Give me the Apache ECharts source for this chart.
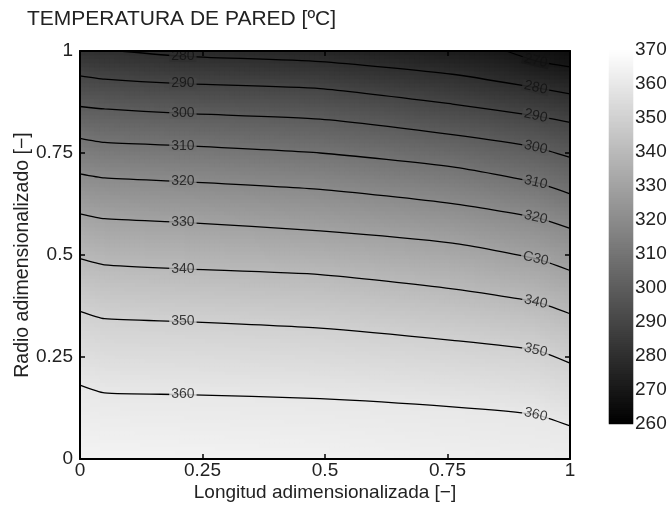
<!DOCTYPE html>
<html lang="es">
<head>
    <meta charset="UTF-8">
    <script src="https://cdn.jsdelivr.net/npm/echarts@6/dist/echarts.min.js"></script>
    <title>Temperatura de pared</title>
</head>
<body style="margin: 0; background: #fff">
<div id="main" style="width: 670px; height: 506px"></div>
<script>
    // isolineas: [longitud, radio]
    var levels = [270, 280, 290, 300, 310, 320, 330, 340, 350, 360];
    var c270 = [[0.87, 1.0], [0.93, 0.976], [1, 0.961]];
    var c280 = [[0.08, 1.0], [0.21, 0.987], [0.49, 0.974], [0.76, 0.943], [0.93, 0.910], [1, 0.895]];
    var c290 = [[0, 0.939], [0.05, 0.931], [0.21, 0.920], [0.49, 0.908], [0.76, 0.870], [0.93, 0.841], [1, 0.825]];
    var c300 = [[0, 0.864], [0.05, 0.858], [0.21, 0.847], [0.49, 0.833], [0.76, 0.795], [0.93, 0.764], [1, 0.739]];
    var c310 = [[0, 0.786], [0.05, 0.776], [0.21, 0.768], [0.49, 0.750], [0.76, 0.716], [0.93, 0.678], [1, 0.650]];
    var c320 = [[0, 0.699], [0.05, 0.689], [0.21, 0.680], [0.49, 0.661], [0.76, 0.626], [0.93, 0.592], [1, 0.565]];
    var c330 = [[0, 0.601], [0.05, 0.589], [0.21, 0.580], [0.49, 0.559], [0.76, 0.529], [0.93, 0.491], [1, 0.462]];
    var c340 = [[0, 0.491], [0.05, 0.476], [0.21, 0.466], [0.49, 0.452], [0.76, 0.417], [0.93, 0.385], [1, 0.356]];
    var c350 = [[0, 0.362], [0.05, 0.344], [0.21, 0.337], [0.49, 0.321], [0.76, 0.291], [0.93, 0.267], [1, 0.235]];
    var c360 = [[0, 0.181], [0.05, 0.162], [0.21, 0.158], [0.49, 0.148], [0.76, 0.128], [0.93, 0.109], [1, 0.081]];
    var contours = [c270, c280, c290, c300, c310, c320, c330, c340, c350, c360];

    // etiquetas de las isolineas (texto tal como aparece)
    var leftLabelX = 0.21;
    var rightLabelX = 0.93;
    var leftText = ['', '280', '290', '300', '310', '320', '330', '340', '350', '360'];
    var rightText = ['270', '280', '290', '300', '310', '320', 'C30', '340', '350', '360'];

    // temperatura en los bordes superior (r=1) e inferior (r=0)
    var topX = [0, 0.08, 0.5, 0.87, 1];
    var topT = [281, 280, 276, 270, 266];
    var botX = [0, 0.5, 1];
    var botT = [365, 364, 362];

    var barMin = 260, barMax = 370;

    function lerp(xs, ys, x) {
        for (var i = 0; i < xs.length - 1; i++) {
            if (x <= xs[i + 1]) {
                var f = (x - xs[i]) / (xs[i + 1] - xs[i]);
                return ys[i] + f * (ys[i + 1] - ys[i]);
            }
        }
        return ys[ys.length - 1];
    }

    function lineY(c, x) {
        if (x < c[0][0] || x > c[c.length - 1][0]) return null;
        return lerp(c.map(function (p) { return p[0]; }), c.map(function (p) { return p[1]; }), x);
    }

    // campo de temperatura construido a partir de las isolineas
    var NX = 98, NY = 102;
    var field = [];
    for (var i = 0; i < NX; i++) {
        var x = (i + 0.5) / NX;
        var knots = [{y: 0, t: lerp(botX, botT, x)}];
        contours.forEach(function (c, k) {
            var yy = lineY(c, x);
            if (yy !== null && yy < 1) knots.push({y: yy, t: levels[k]});
        });
        knots.push({y: 1, t: lerp(topX, topT, x)});
        knots.sort(function (a, b) { return a.y - b.y; });
        var ky = knots.map(function (k) { return k.y; });
        var kt = knots.map(function (k) { return k.t; });
        for (var j = 0; j < NY; j++) {
            field.push([i, j, lerp(ky, kt, (j + 0.5) / NY)]);
        }
    }

    // barra de color
    var NB = 187;
    var bar = [];
    for (var b = 0; b < NB; b++) {
        bar.push([0, b, barMin + (b + 0.5) * (barMax - barMin) / NB]);
    }

    function grayOf(t) {
        var g = Math.round((t - barMin) / (barMax - barMin) * 255);
        return 'rgb(' + g + ',' + g + ',' + g + ')';
    }

    var lineSeries = contours.map(function (c) {
        return {
            type: 'line',
            xAxisIndex: 0,
            yAxisIndex: 0,
            data: c,
            symbol: 'none',
            smooth: 0.2,
            silent: true,
            lineStyle: {color: '#000', width: 1.3},
            z: 3
        };
    });

    var labelData = [];
    contours.forEach(function (c, k) {
        c.forEach(function (p) {
            if (p[0] === leftLabelX && leftText[k]) {
                labelData.push({value: p, name: leftText[k], bg: grayOf(levels[k]), rot: 0});
            }
            if (p[0] === rightLabelX && rightText[k]) {
                labelData.push({value: p, name: rightText[k], bg: grayOf(levels[k]), rot: -13});
            }
        });
    });

    var font = 'Liberation Sans';

    var labelSeries = {
        type: 'scatter',
        xAxisIndex: 0,
        yAxisIndex: 0,
        symbolSize: 0,
        silent: true,
        z: 5,
        data: labelData.map(function (d) {
            return {
                value: d.value,
                label: {
                    show: true,
                    position: 'inside',
                    formatter: d.name,
                    rotate: d.rot,
                    fontFamily: font,
                    fontSize: 14,
                    lineHeight: 11,
                    color: '#111',
                    backgroundColor: d.bg,
                    padding: [0, 2]
                }
            };
        })
    };

    var myChart = echarts.init(document.getElementById('main'));
    var idxX = [], idxY = [], idxB = [];
    for (var a = 0; a < NX; a++) idxX.push(a);
    for (var a2 = 0; a2 < NY; a2++) idxY.push(a2);
    for (var a3 = 0; a3 < NB; a3++) idxB.push(a3);

    var option = {
        animation: false,
        title: {
            text: 'TEMPERATURA DE PARED [ºC]',
            left: 22,
            top: 4,
            textStyle: {fontFamily: font, fontSize: 21, fontWeight: 'normal', color: '#222'}
        },
        grid: [
            {left: 80, top: 51, width: 490, height: 408, outerBoundsMode: 'none', containLabel: false},
            {left: 609, top: 50, width: 24, height: 374, outerBoundsMode: 'none', containLabel: false}
        ],
        visualMap: {
            type: 'continuous',
            min: barMin,
            max: barMax,
            show: false,
            seriesIndex: [0, 1],
            inRange: {color: ['#000000', '#ffffff']}
        },
        xAxis: [
            {
                type: 'value', gridIndex: 0, min: 0, max: 1, interval: 0.25,
                name: 'Longitud adimensionalizada [−]', nameLocation: 'middle', nameGap: 24,
                nameMoveOverlap: false,
                nameTextStyle: {fontFamily: font, fontSize: 19, color: '#222'},
                axisLine: {lineStyle: {color: '#000', width: 2}},
                axisTick: {inside: true, length: 5, lineStyle: {color: '#000', width: 1.5}},
                axisLabel: {fontFamily: font, fontSize: 19, color: '#222', margin: 2},
                splitLine: {show: false},
                z: 10
            },
            {type: 'category', gridIndex: 0, data: idxX, show: false},
            {
                type: 'value', gridIndex: 0, min: 0, max: 1, interval: 0.25, position: 'top',
                axisLine: {lineStyle: {color: '#000', width: 2}},
                axisTick: {inside: true, length: 5, lineStyle: {color: '#000', width: 1.5}},
                axisLabel: {show: false}, splitLine: {show: false},
                z: 10
            },
            {type: 'category', gridIndex: 1, data: [0], show: false}
        ],
        yAxis: [
            {
                type: 'value', gridIndex: 0, min: 0, max: 1, interval: 0.25,
                name: 'Radio adimensionalizado [−]', nameLocation: 'middle', nameGap: 47,
                nameMoveOverlap: false,
                nameTextStyle: {fontFamily: font, fontSize: 19.5, color: '#222'},
                axisLine: {lineStyle: {color: '#000', width: 2}},
                axisTick: {inside: true, length: 5, lineStyle: {color: '#000', width: 1.5}},
                axisLabel: {fontFamily: font, fontSize: 19, color: '#222', margin: 7},
                splitLine: {show: false},
                z: 10
            },
            {type: 'category', gridIndex: 0, data: idxY, show: false},
            {
                type: 'value', gridIndex: 0, min: 0, max: 1, interval: 0.25, position: 'right',
                axisLine: {lineStyle: {color: '#000', width: 2}},
                axisTick: {inside: true, length: 5, lineStyle: {color: '#000', width: 1.5}},
                axisLabel: {show: false}, splitLine: {show: false},
                z: 10
            },
            {type: 'category', gridIndex: 1, data: idxB, show: false},
            {
                type: 'value', gridIndex: 1, min: barMin, max: barMax, interval: 10, position: 'right',
                axisLine: {lineStyle: {color: '#999', width: 1}},
                axisTick: {show: false},
                axisLabel: {fontFamily: font, fontSize: 19, color: '#222', margin: 2},
                splitLine: {show: false},
                z: 10
            },
            {
                type: 'value', gridIndex: 1, min: barMin, max: barMax, interval: 10, position: 'left',
                axisLine: {lineStyle: {color: '#999', width: 1}},
                axisTick: {inside: true, length: 3, lineStyle: {color: '#999'}},
                axisLabel: {show: false},
                splitLine: {show: false},
                z: 10
            }
        ],
        series: [
            {
                type: 'heatmap', xAxisIndex: 1, yAxisIndex: 1, data: field,
                silent: true, itemStyle: {borderWidth: 0}, z: 1
            },
            {
                type: 'heatmap', xAxisIndex: 3, yAxisIndex: 3, data: bar,
                silent: true, itemStyle: {borderWidth: 0}, z: 1
            }
        ].concat(lineSeries, [labelSeries])
    };
    myChart.setOption(option);
</script>
</body>
</html>
